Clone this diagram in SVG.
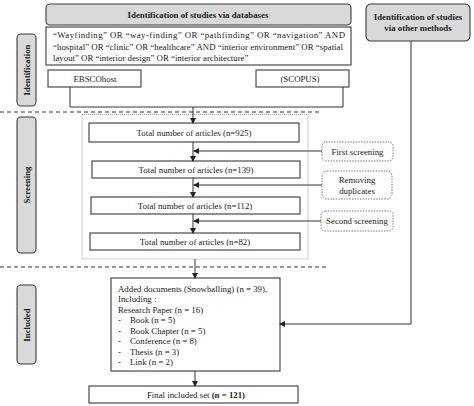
<svg xmlns="http://www.w3.org/2000/svg" width="474" height="406" viewBox="0 0 474 406">
<defs>
<marker id="ah" markerWidth="6" markerHeight="6" refX="5" refY="3" orient="auto" markerUnits="userSpaceOnUse">
<path d="M0,0 L6,3 L0,6 Z" fill="#222"/>
</marker>
<style>
text{font-family:"Liberation Serif","Times New Roman",serif;font-size:8.8px;fill:#222}
.b{font-weight:bold}
.box{fill:#fff;stroke:#3a3a3a;stroke-width:1.1}
.hdr{fill:#d9d9d9;stroke:#3a3a3a;stroke-width:1.1}
.side{fill:#d9d9d9;stroke:#3a3a3a;stroke-width:1.1}
.lbl{fill:#fff;stroke:#777;stroke-width:1;stroke-dasharray:1.5,1.2}
.ln{fill:none;stroke:#333;stroke-width:1}
.dash{fill:none;stroke:#333;stroke-width:1;stroke-dasharray:4,3}
.dot{fill:none;stroke:#999;stroke-width:0.9;stroke-dasharray:1,1}
.m{text-anchor:middle}
</style>
</defs>
<rect width="474" height="406" fill="#fff"/>

<g id="phase-lines">
<line class="dash" x1="0" y1="112" x2="320" y2="112"/>
<line class="dash" x1="0" y1="267" x2="326" y2="267"/>
<rect class="dot" x="82" y="114.5" width="226" height="144.5"/>
</g>

<g id="side-identification">
<rect class="side" x="17" y="34" width="19" height="72" rx="4"/>
<text class="b m" transform="translate(30,70) rotate(-90)">Identification</text>
</g>
<g id="side-screening">
<rect class="side" x="17" y="117" width="19" height="136" rx="4"/>
<text class="b m" transform="translate(30,185) rotate(-90)">Screening</text>
</g>
<g id="side-included">
<rect class="side" x="17" y="285" width="19" height="79" rx="4"/>
<text class="b m" transform="translate(30,325) rotate(-90)">Included</text>
</g>

<g id="header-databases">
<rect class="hdr" x="46" y="4" width="305" height="21" rx="4"/>
<text class="b m" x="198" y="18">Identification  of studies via databases</text>
</g>
<g id="header-other">
<rect class="hdr" x="366" y="4" width="104" height="37" rx="5"/>
<text class="b m" x="418" y="20">Identification of studies</text>
<text class="b m" x="418" y="31">via other methods</text>
</g>

<g id="query">
<rect class="box" x="46" y="27" width="305" height="38"/>
<text x="53" y="38" textLength="292" lengthAdjust="spacing">“Wayfinding” OR “way-finding” OR “pathfinding” OR “navigation” AND</text>
<text x="53" y="49.5" textLength="290" lengthAdjust="spacing">“hospital” OR “clinic” OR “healthcare” AND “interior environment” OR “spatial</text>
<text x="53" y="60.5">layout” OR “interior design” OR “interior architecture”</text>
</g>

<g id="ebsco">
<rect class="box" x="48" y="70" width="93" height="17"/>
<text class="m" x="95" y="81.5">EBSCOhost</text>
</g>
<g id="scopus">
<rect class="box" x="256" y="70" width="93" height="17"/>
<text class="m" x="300" y="81.5">(SCOPUS)</text>
</g>

<g id="total-925">
<rect class="box" x="89" y="123" width="210" height="19"/>
<text class="m" x="194" y="135.5">Total number of articles (n=925)</text>
</g>
<g id="total-139">
<rect class="box" x="92" y="161" width="208" height="17"/>
<text class="m" x="196" y="172.5">Total number of articles (n=139)</text>
</g>
<g id="total-112">
<rect class="box" x="91" y="197" width="209" height="17"/>
<text class="m" x="195" y="208.5">Total number of articles (n=112)</text>
</g>
<g id="total-82">
<rect class="box" x="90" y="233" width="210" height="17"/>
<text class="m" x="195" y="244.5">Total number of articles (n=82)</text>
</g>

<g id="first-screening">
<rect class="lbl" x="322" y="142" width="71" height="19" rx="4"/>
<text class="m" x="357.5" y="154.5">First screening</text>
</g>
<g id="removing-duplicates">
<rect class="lbl" x="322" y="171" width="70" height="28" rx="5"/>
<text class="m" x="357" y="183">Removing</text>
<text class="m" x="357" y="193.5">duplicates</text>
</g>
<g id="second-screening">
<rect class="lbl" x="321" y="211" width="72" height="20" rx="4"/>
<text class="m" x="357" y="224">Second screening</text>
</g>

<g id="added-docs">
<rect class="box" x="111" y="278" width="169" height="93"/>
<text x="118" y="291.5">Added documents (Snowballing) (n = 39),</text>
<text x="118" y="302">Including :</text>
<text x="118" y="312.5">Research Paper  (n = 16)</text>
<text x="118" y="323">-</text><text x="130" y="323">Book (n = 5)</text>
<text x="118" y="333.5">-</text><text x="130" y="333.5">Book Chapter (n = 5)</text>
<text x="118" y="344">-</text><text x="130" y="344">Conference (n = 8)</text>
<text x="118" y="354.5">-</text><text x="130" y="354.5">Thesis (n = 3)</text>
<text x="118" y="365">-</text><text x="130" y="365">Link (n = 2)</text>
</g>

<g id="final">
<rect class="box" x="89" y="386" width="209" height="17"/>
<text class="m" x="196" y="398">Final included set  <tspan class="b">(n = 121)</tspan></text>
</g>

<g id="connectors">
<polyline class="ln" points="70,87 70,107 343,107 343,87"/>
<line class="ln" x1="193" y1="107" x2="193" y2="123" marker-end="url(#ah)"/>
<line class="ln" x1="193" y1="142" x2="193" y2="161" marker-end="url(#ah)"/>
<line class="ln" x1="193" y1="178" x2="193" y2="197" marker-end="url(#ah)"/>
<line class="ln" x1="193" y1="214" x2="193" y2="233" marker-end="url(#ah)"/>
<line class="ln" x1="322" y1="151" x2="194" y2="151" marker-end="url(#ah)"/>
<line class="ln" x1="322" y1="185" x2="194" y2="185" marker-end="url(#ah)"/>
<line class="ln" x1="321" y1="221" x2="194" y2="221" marker-end="url(#ah)"/>
<line class="ln" x1="195" y1="259" x2="195" y2="278" marker-end="url(#ah)"/>
<line class="ln" x1="195" y1="371" x2="195" y2="386" marker-end="url(#ah)"/>
<polyline class="ln" points="411,41 411,324 280,324" marker-end="url(#ah)"/>
</g>
</svg>
